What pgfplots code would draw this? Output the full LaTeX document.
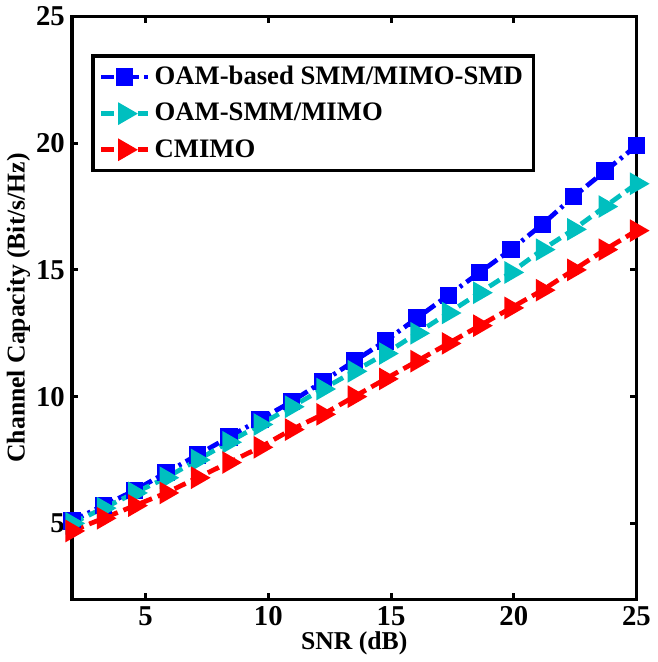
\documentclass[border=0pt]{standalone}
\usepackage{fontspec}
\setmainfont{Liberation Serif}
\usepackage{pgfplots}
\pgfplotsset{compat=1.18}
\definecolor{SmdBlue}{RGB}{0,0,255}
\definecolor{SmmCyan}{RGB}{0,191,191}
\definecolor{CmRed}{RGB}{255,0,0}

\begin{document}
\begin{tikzpicture}
\begin{axis}[
    scale only axis,
    width=275pt, height=284pt,
    xmin=2, xmax=25, ymin=2, ymax=25,
    xtick={5,10,15,20,25}, ytick={5,10,15,20,25},
    tick align=inside,
    major tick length=3pt,
    axis line style={line width=1.6pt},
    every tick/.style={black, line width=1.4pt},
    /pgf/number format/assume math mode=true,
    tick label style={font=\bfseries\fontsize{14}{16}\selectfont},
    label style={font=\bfseries\fontsize{12.5}{15}\selectfont},
    xlabel={SNR (dB)},
    ylabel={Channel Capacity (Bit/s/Hz)},
    xlabel style={yshift=4pt},
    ylabel style={yshift=-4pt},
    legend style={at={(0.034,0.935)}, anchor=north west,
        draw=black, line width=1.6pt,
        font=\bfseries\fontsize{13}{15}\selectfont,
        row sep=3.5pt, inner xsep=3pt, inner ysep=3pt},
    legend cell align=left,
    legend image code/.code={
        \draw[#1] (0cm,0cm) -- (0.8cm,0cm);
        \draw[#1, mark repeat=2, mark phase=2] plot coordinates {(0cm,0cm) (0.4cm,0cm) (0.8cm,0cm)};
    },
]
\addplot[color=SmdBlue, line width=2.3pt,
    dash pattern=on 6pt off 2.5pt on 1.5pt off 2.5pt,
    mark=square*, mark size=3.1pt, mark options={solid, fill=SmdBlue}]
  coordinates {
    (2.000,5.1) (3.278,5.7) (4.556,6.3) (5.833,7.0) (7.111,7.7)
    (8.389,8.4) (9.667,9.1) (10.944,9.8) (12.222,10.6) (13.500,11.4)
    (14.778,12.2) (16.056,13.1) (17.333,14.0) (18.611,14.9) (19.889,15.8)
    (21.167,16.8) (22.444,17.9) (23.722,18.9) (25.000,19.9)
  };
\addplot[color=SmmCyan, line width=2.3pt,
    dash pattern=on 6pt off 3pt,
    mark=triangle*, mark size=4.1pt, mark options={solid, rotate=-90, fill=SmmCyan}]
  coordinates {
    (2.000,5.0) (3.278,5.6) (4.556,6.2) (5.833,6.8) (7.111,7.5)
    (8.389,8.2) (9.667,8.9) (10.944,9.6) (12.222,10.3) (13.500,11.0)
    (14.778,11.7) (16.056,12.5) (17.333,13.3) (18.611,14.1) (19.889,14.9)
    (21.167,15.8) (22.444,16.6) (23.722,17.5) (25.000,18.4)
  };
\addplot[color=CmRed, line width=2.3pt,
    dash pattern=on 6pt off 3pt,
    mark=triangle*, mark size=4.1pt, mark options={solid, rotate=-90, fill=CmRed}]
  coordinates {
    (2.000,4.7) (3.278,5.2) (4.556,5.7) (5.833,6.2) (7.111,6.8)
    (8.389,7.4) (9.667,8.0) (10.944,8.7) (12.222,9.3) (13.500,10.0)
    (14.778,10.7) (16.056,11.4) (17.333,12.1) (18.611,12.8) (19.889,13.5)
    (21.167,14.2) (22.444,15.0) (23.722,15.8) (25.000,16.55)
  };
\legend{OAM-based SMM/MIMO-SMD, OAM-SMM/MIMO, CMIMO}
\end{axis}
\end{tikzpicture}
\end{document}
